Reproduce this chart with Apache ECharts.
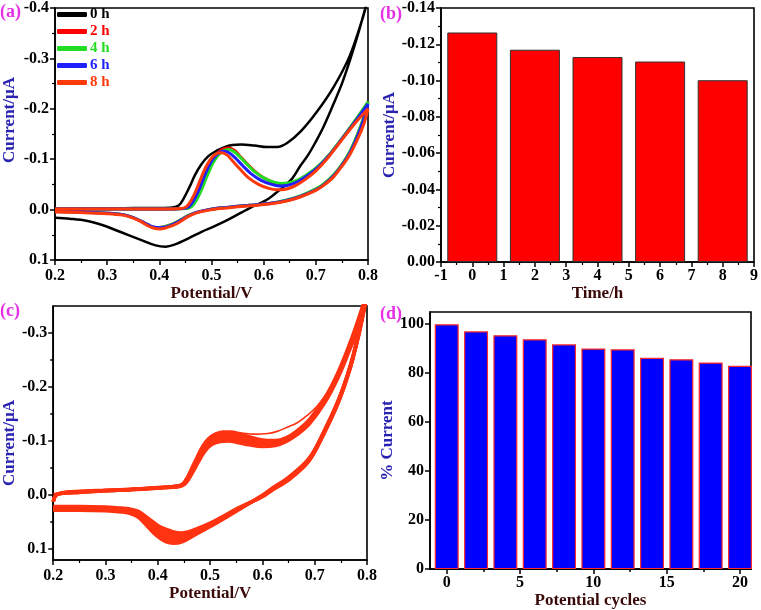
<!DOCTYPE html>
<html><head><meta charset="utf-8">
<script src="https://cdn.jsdelivr.net/npm/echarts@6/dist/echarts.min.js"></script>
<style>html,body{margin:0;padding:0;background:#fff}#c{width:761px;height:610px}</style>
</head><body><div id="c"></div>
<script>
const FONT = '"Liberation Serif","Times New Roman",serif';

// ---------- Panel (a): CV curves [potential V, current uA] ----------
const cv0h = [[0.2,-0.002],[0.25,-0.002],[0.3,-0.002],[0.35,-0.003],[0.4,-0.003],[0.425,-0.004],[0.437,-0.008],[0.446,-0.021],[0.458,-0.045],[0.468,-0.068],[0.48,-0.089],[0.494,-0.106],[0.51,-0.117],[0.525,-0.124],[0.54,-0.128],[0.557,-0.129],[0.582,-0.127],[0.607,-0.124],[0.626,-0.124],[0.645,-0.132],[0.671,-0.155],[0.702,-0.194],[0.734,-0.243],[0.765,-0.305],[0.791,-0.384],[0.8,-0.42],
  [0.795,-0.40],[0.78,-0.345],[0.765,-0.295],[0.75,-0.25],[0.734,-0.21],[0.715,-0.165],[0.7,-0.135],[0.685,-0.108],[0.671,-0.088],[0.655,-0.062],[0.639,-0.046],[0.62,-0.030],[0.607,-0.020],[0.59,-0.011],[0.575,-0.004],[0.557,0.006],[0.532,0.020],[0.506,0.033],[0.481,0.044],[0.456,0.057],[0.43,0.069],[0.412,0.0735],[0.393,0.071],[0.367,0.061],[0.342,0.051],[0.317,0.041],[0.292,0.031],[0.26,0.022],[0.228,0.018],[0.2,0.016]];
const cv2h = [[0.2,-0.001],[0.25,-0.001],[0.3,-0.001],[0.35,-0.001],[0.4,-0.001],[0.448,-0.002],[0.46,-0.006],[0.47,-0.020],[0.48,-0.043],[0.49,-0.070],[0.5,-0.094],[0.51,-0.110],[0.52,-0.119],[0.532,-0.122],[0.543,-0.118],[0.553,-0.108],[0.567,-0.092],[0.582,-0.077],[0.6,-0.063],[0.618,-0.054],[0.633,-0.051],[0.648,-0.052],[0.668,-0.059],[0.688,-0.072],[0.708,-0.089],[0.728,-0.111],[0.752,-0.143],[0.776,-0.177],[0.8,-0.213],
  [0.792,-0.183],[0.78,-0.149],[0.765,-0.114],[0.75,-0.089],[0.734,-0.068],[0.715,-0.050],[0.7,-0.040],[0.67,-0.026],[0.64,-0.017],[0.61,-0.012],[0.58,-0.009],[0.545,-0.006],[0.515,-0.003],[0.49,0.001],[0.47,0.006],[0.455,0.012],[0.44,0.021],[0.425,0.029],[0.41,0.034],[0.4,0.0355],[0.39,0.035],[0.38,0.031],[0.365,0.023],[0.35,0.016],[0.33,0.010],[0.3,0.007],[0.25,0.005],[0.2,0.004]];
const cv4h = [[0.2,-0.001],[0.25,-0.001],[0.3,-0.001],[0.35,-0.001],[0.4,-0.001],[0.45,-0.002],[0.462,-0.006],[0.472,-0.020],[0.482,-0.042],[0.492,-0.068],[0.502,-0.091],[0.512,-0.107],[0.522,-0.116],[0.533,-0.119],[0.543,-0.115],[0.553,-0.106],[0.567,-0.091],[0.582,-0.076],[0.6,-0.063],[0.618,-0.055],[0.633,-0.052],[0.648,-0.053],[0.668,-0.060],[0.688,-0.073],[0.708,-0.090],[0.728,-0.112],[0.752,-0.144],[0.776,-0.178],[0.8,-0.214],
  [0.792,-0.184],[0.78,-0.150],[0.765,-0.115],[0.75,-0.090],[0.734,-0.069],[0.715,-0.051],[0.7,-0.041],[0.67,-0.027],[0.64,-0.018],[0.61,-0.012],[0.58,-0.009],[0.545,-0.006],[0.515,-0.003],[0.49,0.001],[0.47,0.006],[0.455,0.012],[0.44,0.021],[0.425,0.029],[0.41,0.034],[0.4,0.0355],[0.39,0.035],[0.38,0.031],[0.365,0.023],[0.35,0.016],[0.33,0.010],[0.3,0.007],[0.25,0.005],[0.2,0.004]];
const cv6h = [[0.2,-0.001],[0.25,-0.001],[0.3,-0.001],[0.35,-0.001],[0.4,-0.001],[0.445,-0.002],[0.457,-0.006],[0.467,-0.020],[0.477,-0.042],[0.487,-0.068],[0.497,-0.091],[0.507,-0.106],[0.517,-0.114],[0.525,-0.116],[0.535,-0.112],[0.545,-0.103],[0.56,-0.087],[0.575,-0.072],[0.595,-0.058],[0.615,-0.050],[0.63,-0.047],[0.645,-0.048],[0.665,-0.055],[0.685,-0.068],[0.705,-0.085],[0.725,-0.107],[0.75,-0.140],[0.775,-0.174],[0.8,-0.210],
  [0.792,-0.180],[0.78,-0.146],[0.765,-0.112],[0.75,-0.088],[0.734,-0.067],[0.715,-0.049],[0.7,-0.039],[0.67,-0.026],[0.64,-0.017],[0.61,-0.012],[0.58,-0.009],[0.545,-0.006],[0.515,-0.003],[0.49,0.001],[0.47,0.006],[0.455,0.013],[0.44,0.022],[0.425,0.030],[0.41,0.035],[0.4,0.036],[0.39,0.035],[0.38,0.031],[0.365,0.023],[0.35,0.016],[0.33,0.010],[0.3,0.007],[0.25,0.005],[0.2,0.004]];
const cv8h = [[0.2,-0.001],[0.25,-0.001],[0.3,-0.001],[0.35,-0.001],[0.4,-0.001],[0.44,-0.002],[0.452,-0.006],[0.462,-0.020],[0.472,-0.042],[0.482,-0.068],[0.492,-0.090],[0.502,-0.105],[0.512,-0.112],[0.52,-0.113],[0.53,-0.108],[0.54,-0.097],[0.555,-0.080],[0.57,-0.064],[0.59,-0.050],[0.61,-0.042],[0.625,-0.0395],[0.64,-0.040],[0.66,-0.047],[0.68,-0.060],[0.7,-0.077],[0.72,-0.099],[0.745,-0.132],[0.77,-0.165],[0.8,-0.200],
  [0.792,-0.170],[0.78,-0.140],[0.765,-0.109],[0.75,-0.086],[0.734,-0.065],[0.715,-0.048],[0.7,-0.038],[0.67,-0.025],[0.64,-0.016],[0.61,-0.011],[0.58,-0.008],[0.545,-0.005],[0.515,-0.002],[0.49,0.002],[0.47,0.007],[0.455,0.014],[0.44,0.024],[0.425,0.032],[0.41,0.037],[0.4,0.0385],[0.39,0.037],[0.38,0.033],[0.365,0.024],[0.35,0.017],[0.33,0.011],[0.3,0.008],[0.25,0.006],[0.2,0.005]];
const legendA = ['0 h','2 h','4 h','6 h','8 h'];
const colorsA = ['#000000','#ff0000','#22dd22','#1f1fff','#ff3a0a'];

// ---------- Panel (b): peak current vs time ----------
const timeB = [0, 2, 4, 6, 8];
const currentB = [-0.1265, -0.117, -0.113, -0.1105, -0.1002];

// ---------- Panel (c): repeated cycles ----------
const cycFirst = [[0.2,-0.003],[0.25,-0.006],[0.3,-0.009],[0.35,-0.011],[0.4,-0.014],[0.44,-0.017],[0.45,-0.021],[0.46,-0.032],[0.47,-0.05],[0.48,-0.068],[0.49,-0.088],[0.5,-0.102],[0.51,-0.110],[0.52,-0.114],[0.54,-0.116],[0.56,-0.115],[0.583,-0.113],[0.61,-0.114],[0.628,-0.118],[0.646,-0.125],[0.666,-0.1335],[0.685,-0.147],[0.704,-0.164],[0.724,-0.19],[0.742,-0.2195],[0.758,-0.25],[0.774,-0.281],[0.786,-0.31],[0.793,-0.342],[0.8,-0.36]];
const cycEarly = [[0.2,0.012],[0.205,0.001],[0.215,-0.004],[0.25,-0.007],[0.3,-0.009],[0.35,-0.011],[0.4,-0.014],[0.438,-0.017],[0.448,-0.021],[0.456,-0.032],[0.464,-0.048],[0.473,-0.066],[0.482,-0.084],[0.491,-0.098],[0.5,-0.107],[0.51,-0.113],[0.525,-0.117],[0.54,-0.117],[0.555,-0.114],[0.575,-0.108],[0.6,-0.102],[0.625,-0.101],[0.645,-0.106],[0.665,-0.118],[0.69,-0.14],[0.72,-0.181],[0.745,-0.228],[0.768,-0.283],[0.785,-0.33],[0.8,-0.375],
  [0.795,-0.35],[0.784,-0.30],[0.768,-0.24],[0.746,-0.178],[0.717,-0.117],[0.689,-0.068],[0.65,-0.033],[0.62,-0.014],[0.6,0.0],[0.553,0.028],[0.508,0.054],[0.47,0.074],[0.445,0.087],[0.43,0.089],[0.415,0.086],[0.4,0.077],[0.382,0.060],[0.363,0.041],[0.344,0.033],[0.33,0.031],[0.3,0.029],[0.25,0.028],[0.2,0.028]];
const cyc5 = [[0.2,0.012],[0.205,0.0005],[0.215,-0.00375],[0.25,-0.0065],[0.3,-0.00875],[0.35,-0.01075],[0.4,-0.01375],[0.439,-0.01675],[0.449,-0.021],[0.457,-0.0318],[0.4653,-0.0475],[0.4743,-0.065],[0.4833,-0.0823],[0.4923,-0.0955],[0.5013,-0.104],[0.512,-0.1095],[0.527,-0.1125],[0.542,-0.112],[0.557,-0.109],[0.575,-0.104],[0.6,-0.099],[0.625,-0.0988],[0.645,-0.104],[0.665,-0.116],[0.69,-0.138],[0.72,-0.179],[0.745,-0.2255],[0.768,-0.280],[0.785,-0.3275],[0.8,-0.373],
  [0.795,-0.349],[0.784,-0.299],[0.768,-0.239],[0.746,-0.177],[0.717,-0.116],[0.689,-0.067],[0.65,-0.032],[0.62,-0.013],[0.6,0.0008],[0.553,0.027],[0.508,0.0525],[0.47,0.0715],[0.445,0.083],[0.43,0.084],[0.415,0.080],[0.4,0.072],[0.382,0.056],[0.363,0.038],[0.344,0.031],[0.33,0.029],[0.3,0.027],[0.25,0.026],[0.2,0.026]];
const cycMid = [[0.2,0.012],[0.205,0.0],[0.215,-0.0035],[0.25,-0.006],[0.3,-0.0085],[0.35,-0.0105],[0.4,-0.0135],[0.44,-0.0165],[0.45,-0.021],[0.458,-0.0315],[0.4665,-0.047],[0.4755,-0.064],[0.4845,-0.0805],[0.4935,-0.093],[0.5025,-0.101],[0.515,-0.106],[0.53,-0.108],[0.545,-0.107],[0.56,-0.1045],[0.575,-0.1005],[0.6,-0.096],[0.625,-0.0965],[0.645,-0.1025],[0.665,-0.1145],[0.69,-0.136],[0.72,-0.1765],[0.745,-0.223],[0.768,-0.2775],[0.785,-0.325],[0.8,-0.3715],
  [0.795,-0.3475],[0.784,-0.2975],[0.768,-0.2375],[0.746,-0.1755],[0.717,-0.1145],[0.689,-0.0655],[0.65,-0.0305],[0.62,-0.012],[0.6,0.0015],[0.553,0.026],[0.508,0.051],[0.47,0.069],[0.445,0.0785],[0.43,0.0785],[0.415,0.0745],[0.4,0.0665],[0.382,0.0515],[0.363,0.0355],[0.344,0.029],[0.33,0.0275],[0.3,0.0255],[0.25,0.0245],[0.2,0.0245]];
const cyc15 = [[0.2,0.012],[0.205,0.0],[0.215,-0.00325],[0.25,-0.0055],[0.3,-0.00825],[0.35,-0.01025],[0.4,-0.01325],[0.441,-0.01625],[0.451,-0.021],[0.459,-0.0313],[0.4678,-0.0465],[0.4768,-0.063],[0.4858,-0.0788],[0.4948,-0.0905],[0.5038,-0.098],[0.518,-0.1025],[0.533,-0.104],[0.548,-0.1025],[0.565,-0.0995],[0.58,-0.0965],[0.6,-0.093],[0.625,-0.0943],[0.645,-0.1008],[0.665,-0.1128],[0.69,-0.134],[0.72,-0.1743],[0.745,-0.2205],[0.768,-0.2748],[0.785,-0.3225],[0.8,-0.37],
  [0.795,-0.346],[0.784,-0.296],[0.768,-0.236],[0.746,-0.174],[0.717,-0.113],[0.689,-0.064],[0.65,-0.029],[0.62,-0.011],[0.6,0.0023],[0.553,0.025],[0.508,0.0495],[0.47,0.0665],[0.445,0.0743],[0.43,0.0733],[0.415,0.0688],[0.4,0.0613],[0.382,0.0473],[0.363,0.0328],[0.344,0.027],[0.33,0.0258],[0.3,0.0238],[0.25,0.0228],[0.2,0.0228]];
const cycLate = [[0.2,0.012],[0.205,0.0],[0.215,-0.003],[0.25,-0.005],[0.3,-0.008],[0.35,-0.010],[0.4,-0.013],[0.442,-0.016],[0.452,-0.021],[0.46,-0.031],[0.469,-0.046],[0.478,-0.062],[0.487,-0.077],[0.496,-0.088],[0.505,-0.095],[0.52,-0.099],[0.535,-0.100],[0.55,-0.098],[0.575,-0.093],[0.6,-0.090],[0.625,-0.092],[0.645,-0.099],[0.665,-0.111],[0.69,-0.132],[0.72,-0.172],[0.745,-0.218],[0.768,-0.272],[0.785,-0.32],[0.8,-0.368],
  [0.795,-0.345],[0.784,-0.295],[0.768,-0.235],[0.746,-0.173],[0.717,-0.112],[0.689,-0.063],[0.65,-0.028],[0.62,-0.010],[0.6,0.003],[0.553,0.024],[0.508,0.048],[0.47,0.064],[0.445,0.070],[0.43,0.068],[0.415,0.063],[0.4,0.056],[0.382,0.043],[0.363,0.030],[0.344,0.025],[0.33,0.024],[0.3,0.022],[0.25,0.021],[0.2,0.021]];

// ---------- Panel (d): % current vs cycles ----------
const cyclesD = [0, 2, 4, 6, 8, 10, 12, 14, 16, 18, 20];
const percentD = [100, 97.1, 95.5, 93.9, 91.8, 90.1, 89.8, 86.3, 85.7, 84.4, 83.0];

// tick label lists
const ticksCY = [-0.3, -0.2, -0.1, 0.0, 0.1];
const minorCY = [-0.25, -0.15, -0.05, 0.05];
const ticksDX = [0, 5, 10, 15, 20];
const minorDX = [2.5, 7.5, 12.5, 17.5];
const ticksDY = [0, 20, 40, 60, 80, 100];
const minorDY = [10, 30, 50, 70, 90];

const fix = n => v => (Math.abs(v) < 1e-9 ? 0 : v).toFixed(n);
const line = {show:true, onZero:false, lineStyle:{color:'#000', width:1.6}};
const tick = {show:true, inside:false, length:5, lineStyle:{color:'#000', width:1.5}};
const minor = {show:true, splitNumber:2, length:3, lineStyle:{color:'#000', width:1.2}};
const lab = {color:'#000', fontFamily:FONT, fontWeight:'bold', fontSize:16};
const nameX = {fontFamily:FONT, fontWeight:'bold', fontSize:17, color:'#3a0a0a'};
const nameY = {fontFamily:FONT, fontWeight:'bold', fontSize:17, color:'#2a22b0'};
const gridStyle = {show:true, borderColor:'#000', borderWidth:1.6, backgroundColor:'transparent', containLabel:false};

const chart = echarts.init(document.getElementById('c'), null, {renderer:'canvas'});
const cvLine = (name, data, color, w, z) => ({
  type:'line', name, data, xAxisIndex:0, yAxisIndex:0, showSymbol:false, smooth:0.35,
  clip:true, lineStyle:{color, width:w}, itemStyle:{color}, z, animation:false
});
const cLine = (name, data, w) => ({
  type:'line', name, data, xAxisIndex:1, yAxisIndex:1, showSymbol:false, smooth:0.35,
  clip:true, lineStyle:{color:'#ff3311', width:w}, itemStyle:{color:'#ff3311'}, animation:false
});

chart.setOption({
  animation:false,
  title:[
    {text:'(a)', left:0, top:3},
    {text:'(b)', left:380, top:5},
    {text:'(c)', left:0, top:302},
    {text:'(d)', left:380, top:305}
  ].map(t => Object.assign(t, {textStyle:{fontFamily:FONT, fontWeight:'bold', fontSize:18, color:'#e530e5'}, padding:0})),
  legend:{
    left:57, top:7, padding:0, orient:'vertical', itemWidth:30, itemHeight:5, itemGap:2,
    icon:'roundRect', selectedMode:false,
    textStyle:{fontFamily:FONT, fontWeight:'bold', fontSize:15, lineHeight:15, padding:[0,0,0,-2]},
    data: legendA.map((n,i) => ({name:n, textStyle:{color:colorsA[i]}}))
  },
  grid:[
    Object.assign({left:52, top:5, width:316, height:255}, gridStyle),
    Object.assign({left:51, top:306, width:316, height:254}, gridStyle),
    Object.assign({left:441, top:7, width:316, height:255}, gridStyle),
    Object.assign({left:430, top:312, width:321, height:260}, gridStyle)
  ],
  xAxis:[
    {type:'value', gridIndex:0, min:0.2, max:0.8, interval:0.1, axisLine:line, axisTick:tick, minorTick:minor,
     splitLine:{show:false}, axisLabel:Object.assign({formatter:fix(1), margin:8}, lab),
     name:'Potential/V', nameLocation:'middle', nameGap:22, nameTextStyle:nameX},
    {type:'value', gridIndex:1, min:0.2, max:0.8, interval:0.1, axisLine:line, axisTick:tick, minorTick:minor,
     splitLine:{show:false}, axisLabel:Object.assign({formatter:fix(1), margin:8}, lab),
     name:'Potential/V', nameLocation:'middle', nameGap:19, nameTextStyle:nameX},
    {type:'value', gridIndex:2, min:-1, max:9, interval:1, axisLine:line, axisTick:tick, minorTick:minor,
     splitLine:{show:false}, axisLabel:Object.assign({formatter:fix(0), margin:6}, lab),
     name:'Time/h', nameLocation:'middle', nameGap:16, nameTextStyle:nameX},
    {type:'value', gridIndex:3, min:-1.14, max:20.75, axisLine:line,
     axisTick:Object.assign({customValues:ticksDX}, tick), splitLine:{show:false},
     axisLabel:Object.assign({customValues:ticksDX, formatter:fix(0), margin:6}, lab),
     name:'Potential cycles', nameLocation:'middle', nameGap:21, nameTextStyle:nameX},
    {type:'value', gridIndex:3, position:'bottom', min:-1.14, max:20.75, axisLine:{show:false},
     axisTick:Object.assign({customValues:minorDX}, tick, {length:3}), axisLabel:{show:false}, splitLine:{show:false}}
  ],
  yAxis:[
    {type:'value', gridIndex:0, min:-0.4, max:0.1, interval:0.1, inverse:true, axisLine:line, axisTick:tick, minorTick:minor,
     splitLine:{show:false}, axisLabel:Object.assign({formatter:fix(1), margin:6}, lab),
     name:'Current/μA', nameLocation:'middle', nameGap:37, nameTextStyle:Object.assign({padding:[0,0,0,28]}, nameY)},
    {type:'value', gridIndex:1, min:-0.35, max:0.12, inverse:true, axisLine:line,
     axisTick:Object.assign({customValues:ticksCY}, tick), splitLine:{show:false},
     axisLabel:Object.assign({customValues:ticksCY, formatter:fix(1), margin:6}, lab),
     name:'Current/μA', nameLocation:'middle', nameGap:35, nameTextStyle:Object.assign({padding:[0,20,0,0]}, nameY)},
    {type:'value', gridIndex:2, min:-0.14, max:0, interval:0.02, inverse:true, axisLine:line, axisTick:tick, minorTick:minor,
     splitLine:{show:false}, axisLabel:Object.assign({formatter:fix(2), margin:6}, lab),
     name:'Current/μA', nameLocation:'middle', nameGap:43, nameTextStyle:nameY},
    {type:'value', gridIndex:3, min:0, max:105, axisLine:line,
     axisTick:Object.assign({customValues:ticksDY}, tick), splitLine:{show:false},
     axisLabel:Object.assign({customValues:ticksDY, formatter:fix(0), margin:6}, lab),
     name:'% Current', nameLocation:'middle', nameGap:32, nameTextStyle:nameY},
    {type:'value', gridIndex:1, position:'left', min:-0.35, max:0.12, inverse:true, axisLine:{show:false},
     axisTick:Object.assign({customValues:minorCY}, tick, {length:3}), axisLabel:{show:false}, splitLine:{show:false}},
    {type:'value', gridIndex:3, position:'left', min:0, max:105, axisLine:{show:false},
     axisTick:Object.assign({customValues:minorDY}, tick, {length:3}), axisLabel:{show:false}, splitLine:{show:false}}
  ],
  series:[
    cvLine('0 h', cv0h, colorsA[0], 2.5, 2),
    cvLine('2 h', cv2h, colorsA[1], 3, 3),
    cvLine('4 h', cv4h, colorsA[2], 3, 4),
    cvLine('6 h', cv6h, colorsA[3], 3, 5),
    cvLine('8 h', cv8h, colorsA[4], 3, 6),
    cLine('cycle 1', cycFirst, 1.6),
    cLine('cycle 2', cycEarly, 3.5),
    cLine('cycle 5', cyc5, 3.5),
    cLine('cycle 10', cycMid, 3.5),
    cLine('cycle 15', cyc15, 3.5),
    cLine('cycle 20', cycLate, 3.5),
    {type:'bar', xAxisIndex:2, yAxisIndex:2, barWidth:50, animation:false,
     data: timeB.map((t,i) => [t, currentB[i]]),
     itemStyle:{color:'#ff0000', borderColor:'#333', borderWidth:1}},
    {type:'bar', xAxisIndex:3, yAxisIndex:3, barWidth:24, animation:false,
     data: cyclesD.map((c,i) => [c, percentD[i]]),
     itemStyle:{color:'#0000ff', borderColor:'#ff2a2a', borderWidth:1.2}}
  ]
});
</script></body></html>
